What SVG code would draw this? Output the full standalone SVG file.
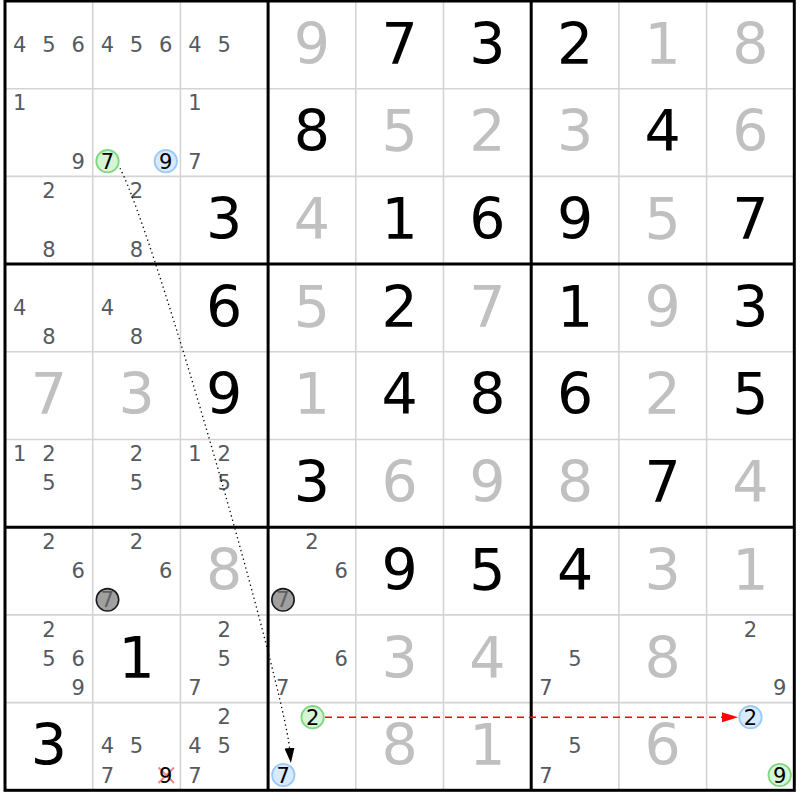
<svg xmlns="http://www.w3.org/2000/svg" width="800" height="800" viewBox="0 0 800 800">
<style>
text{font-family:"DejaVu Sans","Liberation Sans",sans-serif;text-anchor:middle}
.b{font-size:57px;fill:#000}
.s{font-size:57px;fill:#c0c0c0}
.c{font-size:21px;fill:#555a60}
.k{font-size:21px;fill:#000}
.thin{stroke:#d4d4d4;stroke-width:1.6;fill:none}
.thick{stroke:#000;stroke-width:3;fill:none}
.cg{fill:#d6f5d6;stroke:#80d880;stroke-width:1.8}
.cb{fill:#d8eaff;stroke:#9ccaf5;stroke-width:1.8}
.cx{fill:#a0a0a0;stroke:#1a1a1a;stroke-width:1.6}
.dim{font-size:21px;fill:#606060}
</style>
<defs>
<marker id="ab" viewBox="0 0 15 10" markerWidth="15" markerHeight="10" refX="0" refY="5" orient="auto" markerUnits="userSpaceOnUse"><path d="M0,0 L15,5 L0,10 z" fill="#000"/></marker>
<marker id="ar" viewBox="0 0 16 10" markerWidth="16" markerHeight="10" refX="0" refY="5" orient="auto" markerUnits="userSpaceOnUse"><path d="M0,0 L16,5 L0,10 z" fill="#f00"/></marker>
</defs>
<rect x="0" y="0" width="800" height="800" fill="#fff"/>
<g id="grid">
<path class="thin" d="M92.7,1V790.3M180.4,1V790.3M355.8,1V790.3M443.5,1V790.3M618.9,1V790.3M706.6,1V790.3M5,88.7H794.3M5,176.4H794.3M5,351.8H794.3M5,439.5H794.3M5,614.9H794.3M5,702.6H794.3"/>
<path class="thick" d="M268.1,1V790.3M531.2,1V790.3M5,264.1H794.3M5,527.2H794.3"/>
<rect class="thick" x="5" y="1" width="789.3" height="789.3"/>
</g>
<g id="values">
<text class="s" x="311.95" y="63.6">9</text><text class="b" x="399.65" y="63.6">7</text><text class="b" x="487.35" y="63.6">3</text><text class="b" x="575.05" y="63.6">2</text><text class="s" x="662.75" y="63.6">1</text><text class="s" x="750.45" y="63.6">8</text>
<text class="b" x="311.95" y="151.3">8</text><text class="s" x="399.65" y="151.3">5</text><text class="s" x="487.35" y="151.3">2</text><text class="s" x="575.05" y="151.3">3</text><text class="b" x="662.75" y="151.3">4</text><text class="s" x="750.45" y="151.3">6</text>
<text class="b" x="224.25" y="239">3</text><text class="s" x="311.95" y="239">4</text><text class="b" x="399.65" y="239">1</text><text class="b" x="487.35" y="239">6</text><text class="b" x="575.05" y="239">9</text><text class="s" x="662.75" y="239">5</text><text class="b" x="750.45" y="239">7</text>
<text class="b" x="224.25" y="326.7">6</text><text class="s" x="311.95" y="326.7">5</text><text class="b" x="399.65" y="326.7">2</text><text class="s" x="487.35" y="326.7">7</text><text class="b" x="575.05" y="326.7">1</text><text class="s" x="662.75" y="326.7">9</text><text class="b" x="750.45" y="326.7">3</text>
<text class="s" x="48.85" y="414.4">7</text><text class="s" x="136.55" y="414.4">3</text><text class="b" x="224.25" y="414.4">9</text><text class="s" x="311.95" y="414.4">1</text><text class="b" x="399.65" y="414.4">4</text><text class="b" x="487.35" y="414.4">8</text><text class="b" x="575.05" y="414.4">6</text><text class="s" x="662.75" y="414.4">2</text><text class="b" x="750.45" y="414.4">5</text>
<text class="b" x="311.95" y="502.1">3</text><text class="s" x="399.65" y="502.1">6</text><text class="s" x="487.35" y="502.1">9</text><text class="s" x="575.05" y="502.1">8</text><text class="b" x="662.75" y="502.1">7</text><text class="s" x="750.45" y="502.1">4</text>
<text class="s" x="224.25" y="589.8">8</text><text class="b" x="399.65" y="589.8">9</text><text class="b" x="487.35" y="589.8">5</text><text class="b" x="575.05" y="589.8">4</text><text class="s" x="662.75" y="589.8">3</text><text class="s" x="750.45" y="589.8">1</text>
<text class="b" x="136.55" y="677.5">1</text><text class="s" x="399.65" y="677.5">3</text><text class="s" x="487.35" y="677.5">4</text><text class="s" x="662.75" y="677.5">8</text>
<text class="b" x="48.85" y="765.2">3</text><text class="s" x="399.65" y="765.2">8</text><text class="s" x="487.35" y="765.2">1</text><text class="s" x="662.75" y="765.2">6</text>
</g>
<g id="candidates">
<text class="c" x="19.62" y="51.85">4</text><text class="c" x="48.85" y="51.85">5</text><text class="c" x="78.08" y="51.85">6</text>
<text class="c" x="107.32" y="51.85">4</text><text class="c" x="136.55" y="51.85">5</text><text class="c" x="165.78" y="51.85">6</text>
<text class="c" x="195.02" y="51.85">4</text><text class="c" x="224.25" y="51.85">5</text>
<text class="c" x="19.62" y="110.3">1</text><text class="c" x="78.08" y="168.8">9</text>
<text class="c" x="195.02" y="110.3">1</text><text class="c" x="195.02" y="168.8">7</text>
<text class="c" x="48.85" y="198">2</text><text class="c" x="48.85" y="256.5">8</text>
<text class="c" x="136.55" y="198">2</text><text class="c" x="136.55" y="256.5">8</text>
<text class="c" x="19.62" y="314.95">4</text><text class="c" x="48.85" y="344.2">8</text>
<text class="c" x="107.32" y="314.95">4</text><text class="c" x="136.55" y="344.2">8</text>
<text class="c" x="19.62" y="461.1">1</text><text class="c" x="48.85" y="461.1">2</text><text class="c" x="48.85" y="490.35">5</text>
<text class="c" x="136.55" y="461.1">2</text><text class="c" x="136.55" y="490.35">5</text>
<text class="c" x="195.02" y="461.1">1</text><text class="c" x="224.25" y="461.1">2</text><text class="c" x="224.25" y="490.35">5</text>
<text class="c" x="48.85" y="548.8">2</text><text class="c" x="78.08" y="578.05">6</text>
<text class="c" x="136.55" y="548.8">2</text><text class="c" x="165.78" y="578.05">6</text>
<text class="c" x="311.95" y="548.8">2</text><text class="c" x="341.18" y="578.05">6</text>
<text class="c" x="48.85" y="636.5">2</text><text class="c" x="48.85" y="665.75">5</text><text class="c" x="78.08" y="665.75">6</text><text class="c" x="78.08" y="695">9</text>
<text class="c" x="224.25" y="636.5">2</text><text class="c" x="224.25" y="665.75">5</text><text class="c" x="195.02" y="695">7</text>
<text class="c" x="341.18" y="665.75">6</text><text class="c" x="282.72" y="695">7</text>
<text class="c" x="575.05" y="665.75">5</text><text class="c" x="545.82" y="695">7</text>
<text class="c" x="750.45" y="636.5">2</text><text class="c" x="779.68" y="695">9</text>
<text class="c" x="107.32" y="753.45">4</text><text class="c" x="136.55" y="753.45">5</text><text class="c" x="107.32" y="782.7">7</text>
<text class="c" x="224.25" y="724.2">2</text><text class="c" x="195.02" y="753.45">4</text><text class="c" x="224.25" y="753.45">5</text><text class="c" x="195.02" y="782.7">7</text>
<text class="c" x="575.05" y="753.45">5</text><text class="c" x="545.82" y="782.7">7</text>
</g>
<g id="marks">
<g id="r1c1-7"><circle class="cg" cx="107.5" cy="161.2" r="11.2"/><text class="k" x="107.5" y="168.7">7</text></g>
<g id="r1c1-9"><circle class="cb" cx="165.8" cy="161.2" r="11.2"/><text class="k" x="165.8" y="168.7">9</text></g>
<g id="r6c1-7"><circle class="cx" cx="107.5" cy="599.8" r="11.2"/><text class="dim" x="107.5" y="607.3">7</text></g>
<g id="r6c3-7"><circle class="cx" cx="283" cy="599.8" r="11.2"/><text class="dim" x="283" y="607.3">7</text></g>
<g id="r8c3-2"><circle class="cg" cx="312.6" cy="717.2" r="11.2"/><text class="k" x="312.6" y="724.7">2</text></g>
<g id="r8c3-7"><circle class="cb" cx="283.3" cy="775" r="11.2"/><text class="k" x="283.3" y="782.5">7</text></g>
<g id="r8c8-2"><circle class="cb" cx="750.5" cy="717.2" r="11.2"/><text class="k" x="750.5" y="724.7">2</text></g>
<g id="r8c8-9"><circle class="cg" cx="779.7" cy="775" r="11.2"/><text class="k" x="779.7" y="782.5">9</text></g>
<g id="r8c1-9"><path d="M158.5,767.5L174,783M174,767.5L158.5,783" stroke="#f08a8a" stroke-width="2" fill="none"/><text class="k" x="165.8" y="782.7">9</text></g>
</g>
<g id="connectors">
<path d="M120,168.3 C155,235 284,690 289.5,748" fill="none" stroke="#000" stroke-width="1.3" stroke-dasharray="1.3 3.2" marker-end="url(#ab)"/>
<path d="M325,717.3 H722" fill="none" stroke="#f00" stroke-width="1.4" stroke-dasharray="7 5" marker-end="url(#ar)"/>
</g>
</svg>
